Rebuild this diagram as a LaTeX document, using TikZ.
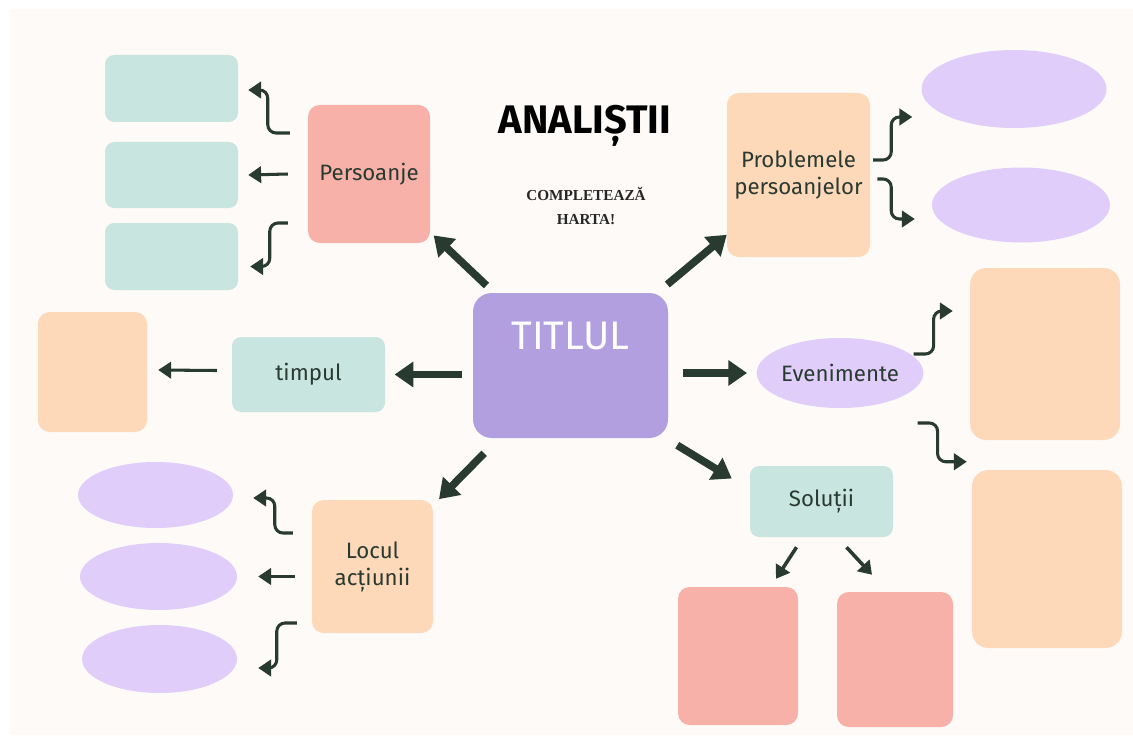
\documentclass[tikz,border=0pt]{standalone}
\usepackage{fontspec}
\setmainfont{Fira Sans}
\newfontfamily\serifbf{Liberation Serif}
\usetikzlibrary{shapes.geometric,arrows.meta,positioning,calc}

\definecolor{cream}{HTML}{FDFAF7}
\definecolor{tealbox}{HTML}{C9E5DF}
\definecolor{pinkbox}{HTML}{F8B1A8}
\definecolor{peachbox}{HTML}{FDD8B9}
\definecolor{lilac}{HTML}{E0CDFA}
\definecolor{titlebox}{HTML}{B19FDF}
\definecolor{ink}{HTML}{293A31}

\newcommand{\pxu}{0.03cm}

\begin{document}
\begin{tikzpicture}[x=0.03cm, y=-0.03cm,
	sz/.style 2 args={minimum width=#1*\pxu, minimum height=#2*\pxu},
	box/.style={inner sep=0pt, rounded corners=10pt},
	oval/.style={ellipse, inner sep=0pt, fill=lilac},
	lbl/.style={font=\fontsize{19}{23}\selectfont, text=ink, align=center},
	bigarr/.style={draw=ink, line width=6.5pt, -{Triangle[length=16pt,width=21pt]}},
	arr/.style={draw=ink, line width=2.6pt, -{Triangle[length=11pt,width=14pt]}, rounded corners=7pt},
	midarr/.style={draw=ink, line width=3pt, -{Triangle[length=11pt,width=14pt]}}]
	\fill[white] (0,0) rectangle (1133,735);
	\fill[cream] (10,9) rectangle (1133,735);
	\useasboundingbox (0,0) rectangle (1133,735);

	% titles
	\node[font=\bfseries\fontsize{34}{34}\selectfont, text=black] (head) at (585,126) {ANALIȘTII};
	\node[font=\serifbf\bfseries\fontsize{13}{20}\selectfont, align=center, text=black!85] (task) at (586,206) {COMPLETEAZĂ\\HARTA!};

	% centre
	\node[box, fill=titlebox, sz={195}{145}, rounded corners=16pt, font=\fontsize{34}{34}\selectfont, text=white, text height=24pt, text depth=52pt] (titl) at (570.5,365.5) {TITLUL};

	% persoanje
	\node[box, fill=pinkbox, sz={122}{138}, lbl] (pers) at (369,174) {Persoanje};
	\node[box, fill=tealbox, sz={133}{67}, rounded corners=8pt] (t1) at (171.5,88.5) {};
	\node[box, fill=tealbox, sz={133}{66}, rounded corners=8pt] (t2) at (171.5,175) {};
	\node[box, fill=tealbox, sz={133}{67}, rounded corners=8pt] (t3) at (171.5,256.5) {};

	% probleme
	\node[box, fill=peachbox, sz={143}{164}, lbl] (probl) at (798.5,175) {Problemele\\persoanjelor};
	\node[oval, sz={185}{78}] (e1) at (1014,89) {};
	\node[oval, sz={178}{75}] (e2) at (1021,205) {};

	% timpul
	\node[box, fill=tealbox, sz={153}{75}, lbl, rounded corners=8pt] (timp) at (308.5,374.5) {timpul};
	\node[box, fill=peachbox, sz={109}{120}] (lp) at (92.5,372) {};

	% evenimente
	\node[oval, sz={166}{70}, lbl] (even) at (840,373) {Evenimente};
	\node[box, fill=peachbox, sz={150}{172}, rounded corners=14pt] (rp1) at (1045,354) {};
	\node[box, fill=peachbox, sz={150}{178}, rounded corners=14pt] (rp2) at (1047,559) {};

	% solutii
	\node[box, fill=tealbox, sz={143}{71}, lbl, rounded corners=8pt] (sol) at (821.5,501.5) {Soluții};
	\node[box, fill=pinkbox, sz={120}{138}] (pb1) at (738,656) {};
	\node[box, fill=pinkbox, sz={116}{135}] (pb2) at (895,659.5) {};

	% locul
	\node[box, fill=peachbox, sz={121}{133}, lbl] (loc) at (372.5,566.5) {Locul\\acțiunii};
	\node[oval, sz={155}{66}] (le1) at (155.5,495) {};
	\node[oval, sz={157}{67}] (le2) at (158.5,576.5) {};
	\node[oval, sz={155}{68}] (le3) at (159.5,659) {};

	% big arrows
	\draw[bigarr, shorten <=9pt, shorten >=4pt] (titl) -- (pers);
	\draw[bigarr, shorten <=11pt] (titl) -- (probl);
	\draw[bigarr, shorten <=9pt, shorten >=8pt] (titl.west |- timp) -- (timp);
	\draw[bigarr, shorten <=13pt, shorten >=8pt] (titl.east |- even) -- (even);
	\draw[bigarr, shorten <=18pt, shorten >=7pt] (titl) -- (loc);
	\draw[bigarr] ($(titl.south east)+(9,7)$) -- ($(sol.west)+(-18,-23)$);

	% small arrows
	\draw[arr] ($(pers.west)+(-18,-41)$) -- ++(-22,0) |- ($(t1.east)+(10,1.5)$);
	\draw[arr] ($(pers.west)+(-20,0)$) -- ($(t2.east)+(10,0)$);
	\draw[arr] ($(pers.west)+(-20,49)$) -- ++(-18,0) |- ($(t3.east)+(12,10)$);
	\draw[arr] ($(probl.east)+(3,-15)$) -- ++(18,0) |- ($(e1.west)+(-9,28)$);
	\draw[arr] ($(probl.east)+(7,4)$) -- ++(14,0) |- ($(e2.west)+(-17,14)$);
	\draw[arr] ($(timp.west)+(-15,-4)$) -- ($(lp.east)+(11,-2)$);
	\draw[arr] ($(even.east)+(-10,-19)$) -- ++(20,0) |- ($(rp1.west)+(-17,-43)$);
	\draw[arr] ($(even.east)+(-6,50)$) -- ++(20,0) |- ($(rp2.north west)+(-5,-8)$);
	\draw[arr] ($(loc.west)+(-19,-33.5)$) -- ++(-18,0) |- ($(le1.east)+(20,3)$);
	\draw[arr] ($(loc.west)+(-17,10)$) -- ($(le2.east)+(21,0)$);
	\draw[arr] ($(loc.west)+(-15,56.5)$) -- ++(-20,0) |- ($(le3.east)+(21,9)$);
	\draw[midarr] ($(sol.south)+(-25,10)$) -- ($(pb1.north)+(38,-8)$);
	\draw[midarr] ($(sol.south)+(25,10)$) -- ($(pb2.north)+(-23,-17)$);
\end{tikzpicture}
\end{document}
